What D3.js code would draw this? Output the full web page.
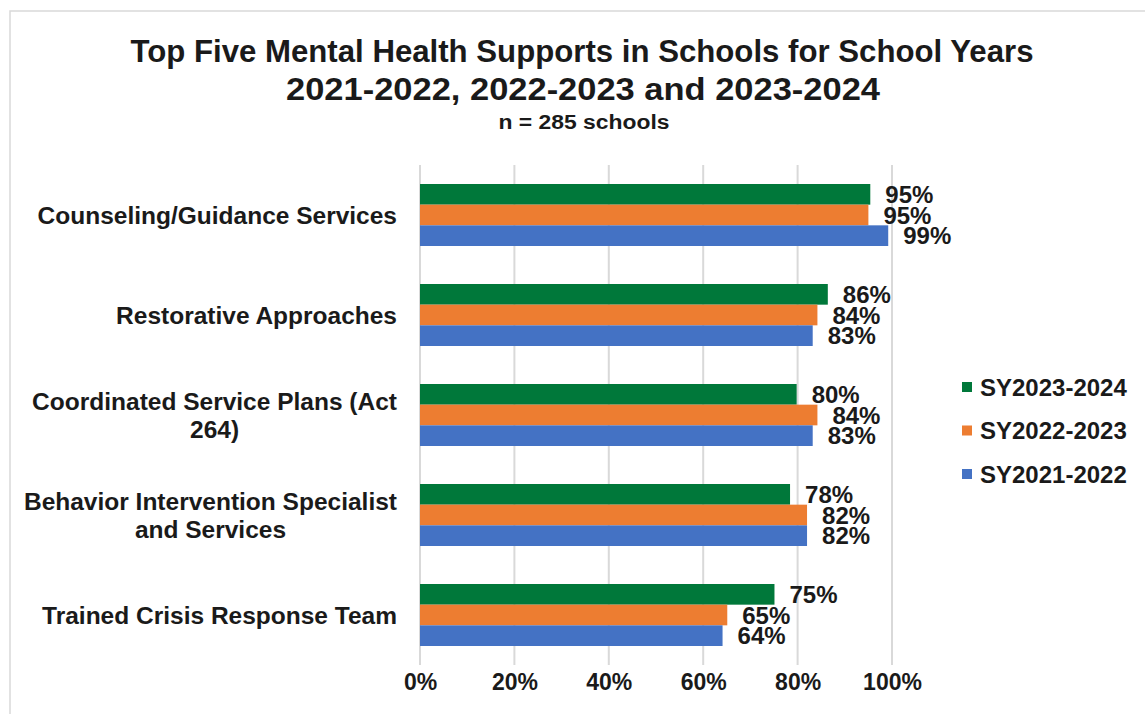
<!DOCTYPE html>
<html>
<head>
<meta charset="utf-8">
<script src="https://cdn.jsdelivr.net/npm/d3@7"></script>
<style>
  body { margin: 0; background: #fff; }
  svg text { font-family: "Liberation Sans", Arial, sans-serif; font-weight: bold; fill: #1a1a1a; }
</style>
</head>
<body>
<div id="vis"></div>
<script>
// chart data
var categories = [
	['Counseling/Guidance Services'],
	['Restorative Approaches'],
	['Coordinated Service Plans (Act', '264)'],
	['Behavior Intervention Specialist', 'and Services'],
	['Trained Crisis Response Team']
];
var seriesNames = ['SY2023-2024', 'SY2022-2023', 'SY2021-2022'];
var sy2324 = [0.954, 0.864, 0.798, 0.784, 0.751];
var sy2223 = [0.950, 0.842, 0.842, 0.820, 0.651];
var sy2122 = [0.992, 0.832, 0.832, 0.820, 0.641];
var xTicks = [0, 0.2, 0.4, 0.6, 0.8, 1];
var colors = ['#00783A', '#ED7D31', '#4472C4'];

var width = 1145, height = 714;

var svg = d3.select('#vis').append('svg')
	.attr('width', width)
	.attr('height', height);

// outer frame
svg.append('rect')
	.attr('x', 10).attr('y', 11)
	.attr('width', width + 10).attr('height', height + 10)
	.attr('fill', 'none')
	.attr('stroke', '#d9d9d9')
	.attr('stroke-width', 1.5);

// titles
svg.append('text').attr('x', 582).attr('y', 62)
	.attr('text-anchor', 'middle').style('font-size', '32px')
	.attr('textLength', 903).attr('lengthAdjust', 'spacingAndGlyphs')
	.text('Top Five Mental Health Supports in Schools for School Years');
svg.append('text').attr('x', 583).attr('y', 100)
	.attr('text-anchor', 'middle').style('font-size', '32px')
	.attr('textLength', 594).attr('lengthAdjust', 'spacingAndGlyphs')
	.text('2021-2022, 2022-2023 and 2023-2024');
svg.append('text').attr('x', 584).attr('y', 129)
	.attr('text-anchor', 'middle').style('font-size', '20px')
	.attr('textLength', 171).attr('lengthAdjust', 'spacingAndGlyphs')
	.text('n = 285 schools');

var x = d3.scaleLinear().domain([0, 1]).range([420, 892]);
var idx = d3.range(categories.length);
var y = d3.scaleBand().domain(idx).range([165, 665])
	.paddingInner(0.38).paddingOuter(0.19);
var ySub = d3.scaleBand().domain(seriesNames).range([0, y.bandwidth()]);

// gridlines
svg.append('g').selectAll('line').data(xTicks).enter().append('line')
	.attr('x1', function(d) { return x(d); })
	.attr('x2', function(d) { return x(d); })
	.attr('y1', 165).attr('y2', 665)
	.attr('stroke', '#d9d9d9')
	.attr('stroke-width', 2);

// x axis labels
var xAxis = d3.axisBottom(x).tickValues(xTicks).tickFormat(d3.format('.0%')).tickSize(0).tickPadding(0);
var gx = svg.append('g').attr('transform', 'translate(0,674)').call(xAxis);
gx.select('.domain').remove();
gx.selectAll('text').style('font-size', '23px').attr('fill', '#1a1a1a').attr('dy', '0.71em');

// bars
var seriesData = [sy2324, sy2223, sy2122];
seriesData.forEach(function(vals, s) {
	var g = svg.append('g');
	g.selectAll('rect').data(vals).enter().append('rect')
		.attr('x', x(0))
		.attr('y', function(d, i) { return y(i) + ySub(seriesNames[s]); })
		.attr('width', function(d) { return x(d) - x(0); })
		.attr('height', ySub.bandwidth())
		.attr('fill', colors[s]);
	g.selectAll('text').data(vals).enter().append('text')
		.attr('x', function(d) { return x(d) + 15; })
		.attr('y', function(d, i) { return y(i) + ySub(seriesNames[s]) + ySub.bandwidth() / 2; })
		.attr('dy', '0.36em')
		.style('font-size', '24px')
		.text(function(d) { return d3.format('.0%')(d); });
});

// category labels
var labelRight = 397;
categories.forEach(function(lines, i) {
	var cy = y(i) + y.bandwidth() / 2;
	var t = svg.append('text').style('font-size', '24.5px');
	var tspans = lines.map(function(l, j) {
		return t.append('tspan').text(l)
			.attr('y', cy + (j - (lines.length - 1) / 2) * 28)
			.attr('dy', '0.36em');
	});
	var maxW = d3.max(tspans, function(ts) { return ts.node().getComputedTextLength(); });
	t.attr('text-anchor', 'middle');
	tspans.forEach(function(ts) { ts.attr('x', labelRight - maxW / 2); });
});

// legend
var legend = svg.append('g').selectAll('g').data(seriesNames).enter().append('g')
	.attr('transform', function(d, i) { return 'translate(962,' + (387 + i * 43.5) + ')'; });
legend.append('rect').attr('x', 0).attr('y', -5).attr('width', 10).attr('height', 10)
	.attr('fill', function(d, i) { return colors[i]; });
legend.append('text').attr('x', 18).attr('dy', '0.36em')
	.style('font-size', '24px')
	.text(function(d) { return d; });
</script>
</body>
</html>
